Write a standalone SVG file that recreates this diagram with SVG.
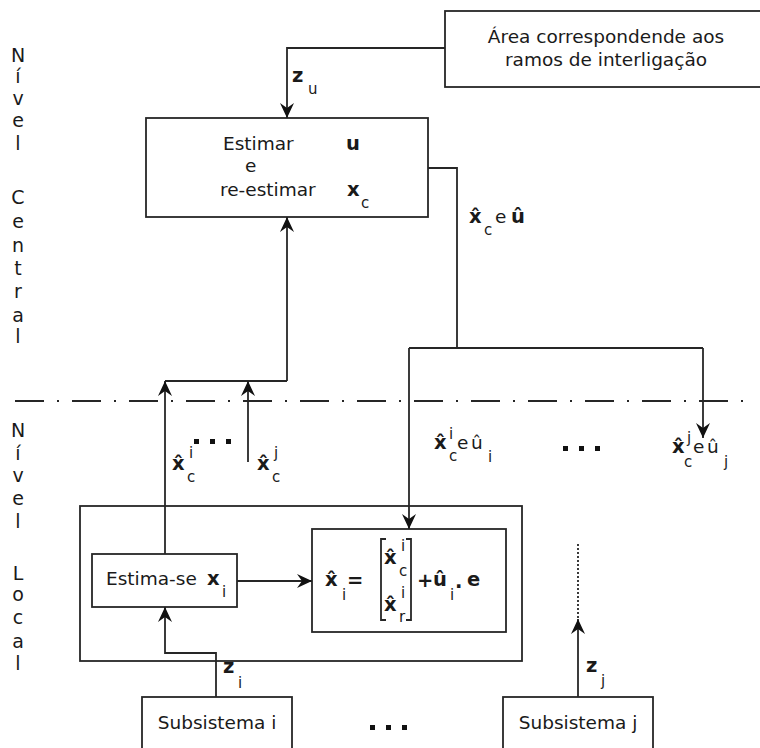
<svg xmlns="http://www.w3.org/2000/svg" width="760" height="748" viewBox="0 0 760 748">
<style>
  .ln{fill:none;stroke:#262626;stroke-width:1.8}
  .bx{fill:#fff;stroke:#262626;stroke-width:1.8}
  text{font-family:"DejaVu Sans","Verdana",sans-serif;fill:#1a1a1a}
  .t{font-size:18.5px}
  .lv{font-size:19px;text-anchor:middle}
  .b{font-size:19.5px;font-weight:bold}
  .s{font-size:15px}
  .dd{fill:#111}
</style>
<defs>
  <marker id="ah" viewBox="-16 -8 17 16" refX="0" refY="0" markerWidth="17" markerHeight="16" markerUnits="userSpaceOnUse" orient="auto">
    <path d="M0,0 L-15,-7 L-10,0 L-15,7 Z" fill="#111"/>
  </marker>
</defs>

<g id="level-labels">
  <text class="lv" x="18" y="62">N</text>
  <text class="lv" x="18" y="83">í</text>
  <text class="lv" x="18" y="105">v</text>
  <text class="lv" x="18" y="127">e</text>
  <text class="lv" x="18" y="150">l</text>
  <text class="lv" x="18" y="204">C</text>
  <text class="lv" x="18" y="228">e</text>
  <text class="lv" x="18" y="252">n</text>
  <text class="lv" x="18" y="275">t</text>
  <text class="lv" x="18" y="298">r</text>
  <text class="lv" x="18" y="322">a</text>
  <text class="lv" x="18" y="343">l</text>

  <text class="lv" x="18" y="437">N</text>
  <text class="lv" x="18" y="460">í</text>
  <text class="lv" x="18" y="482">v</text>
  <text class="lv" x="18" y="505">e</text>
  <text class="lv" x="18" y="528">l</text>
  <text class="lv" x="18" y="580">L</text>
  <text class="lv" x="18" y="601">o</text>
  <text class="lv" x="18" y="624">c</text>
  <text class="lv" x="18" y="648">a</text>
  <text class="lv" x="18" y="670">l</text>
</g>

<g id="divider">
  <line class="ln" x1="15" y1="401" x2="746" y2="401" stroke-dasharray="29 13 2 13" stroke-width="1.5"/>
</g>

<g id="area-box">
  <rect class="bx" x="445" y="11" width="330" height="76"/>
  <text class="t" x="606" y="43" text-anchor="middle">Área correspondende aos</text>
  <text class="t" x="606" y="66" text-anchor="middle">ramos de interligação</text>
</g>

<g id="central-box">
  <rect class="bx" x="146" y="118" width="282" height="99"/>
  <text class="t" x="223" y="150">Estimar</text>
  <text class="b" x="346" y="150">u</text>
  <text class="t" x="245" y="172">e</text>
  <text class="t" x="220" y="196">re-estimar</text>
  <text class="b" x="347" y="196">x</text>
  <text class="s" x="361" y="208">c</text>
</g>

<g id="local-box">
  <rect class="bx" x="80" y="506" width="442" height="155"/>
</g>

<g id="estima-box">
  <rect class="bx" x="92" y="554" width="145" height="53"/>
  <text class="t" x="106" y="585">Estima-se</text>
  <text class="b" x="207" y="585">x</text>
  <text class="s" x="222" y="597">i</text>
</g>

<g id="formula-box">
  <rect class="bx" x="312" y="529" width="194" height="103"/>
  <text class="b" x="325" y="586">x̂</text>
  <text class="s" x="342" y="600">i</text>
  <text class="b" x="347" y="587" font-size="18">=</text>
  <path class="ln" d="M386,539 H381 V620 H386 M406,539 H411 V620 H406"/>
  <text class="b" x="384" y="564">x̂</text>
  <text class="s" x="401" y="551">i</text>
  <text class="s" x="399" y="576">c</text>
  <text class="b" x="384" y="611">x̂</text>
  <text class="s" x="401" y="598">i</text>
  <text class="s" x="399" y="622">r</text>
  <text class="b" x="417" y="587" font-size="16">+</text>
  <text class="b" x="433" y="586">û</text>
  <text class="s" x="450" y="600">i</text>
  <text class="b" x="455" y="588">.</text>
  <text class="b" x="467" y="586">e</text>
</g>

<g id="subsistema-i">
  <rect class="bx" x="142" y="697" width="150" height="60"/>
  <text class="t" x="217" y="729" text-anchor="middle">Subsistema i</text>
</g>

<g id="subsistema-j">
  <rect class="bx" x="503" y="697" width="150" height="60"/>
  <text class="t" x="578" y="729" text-anchor="middle">Subsistema j</text>
</g>

<g id="connectors">
  <path class="ln" d="M445,48 H287 V118" marker-end="url(#ah)"/>
  <path class="ln" d="M287,381 V217" marker-end="url(#ah)"/>
  <path class="ln" d="M165,381 H287"/>
  <path class="ln" d="M165,554 V381" marker-end="url(#ah)"/>
  <path class="ln" d="M248,462 V381" marker-end="url(#ah)"/>
  <path class="ln" d="M428,168 H457 V348"/>
  <path class="ln" d="M409,348 H703"/>
  <path class="ln" d="M409,348 V529" marker-end="url(#ah)"/>
  <path class="ln" d="M703,348 V438" marker-end="url(#ah)"/>
  <path class="ln" d="M237,581 H312" marker-end="url(#ah)"/>
  <path class="ln" d="M216,697 V653 H165 V607" marker-end="url(#ah)"/>
  <path class="ln" d="M578,697 V619" marker-end="url(#ah)"/>
  <path class="ln" d="M578,618 V542" stroke-dasharray="2 2" stroke-width="1.4"/>
</g>

<g id="labels">
  <text class="b" x="292" y="82" font-size="21">z</text>
  <text class="s" x="308" y="94">u</text>

  <text class="b" x="469" y="223">x̂</text>
  <text class="s" x="484" y="235">c</text>
  <text class="t" x="495" y="223">e</text>
  <text class="b" x="511" y="223">û</text>

  <text class="b" x="172" y="470">x̂</text>
  <text class="s" x="189" y="458">i</text>
  <text class="s" x="187" y="482">c</text>
  <rect class="dd" x="194" y="439" width="5" height="5"/>
  <rect class="dd" x="210" y="439" width="5" height="5"/>
  <rect class="dd" x="226" y="439" width="5" height="5"/>
  <text class="b" x="257" y="470">x̂</text>
  <text class="s" x="274" y="458">j</text>
  <text class="s" x="272" y="482">c</text>

  <text class="b" x="434" y="449">x̂</text>
  <text class="s" x="449" y="439">i</text>
  <text class="s" x="449" y="461">c</text>
  <text class="t" x="457" y="449">e</text>
  <text class="t" x="471" y="449">û</text>
  <text class="s" x="488" y="462">i</text>
  <rect class="dd" x="563" y="446" width="5" height="5"/>
  <rect class="dd" x="579" y="446" width="5" height="5"/>
  <rect class="dd" x="595" y="446" width="5" height="5"/>
  <text class="b" x="672" y="453">x̂</text>
  <text class="s" x="687" y="443">j</text>
  <text class="s" x="684" y="467">c</text>
  <text class="t" x="693" y="453">e</text>
  <text class="t" x="707" y="453">û</text>
  <text class="s" x="724" y="467">j</text>

  <text class="b" x="223" y="673" font-size="21">z</text>
  <text class="s" x="238" y="688">i</text>
  <text class="b" x="586" y="672" font-size="21">z</text>
  <text class="s" x="601" y="686">j</text>

  <rect class="dd" x="370" y="725" width="5" height="5"/>
  <rect class="dd" x="386" y="725" width="5" height="5"/>
  <rect class="dd" x="402" y="725" width="5" height="5"/>
</g>
</svg>
